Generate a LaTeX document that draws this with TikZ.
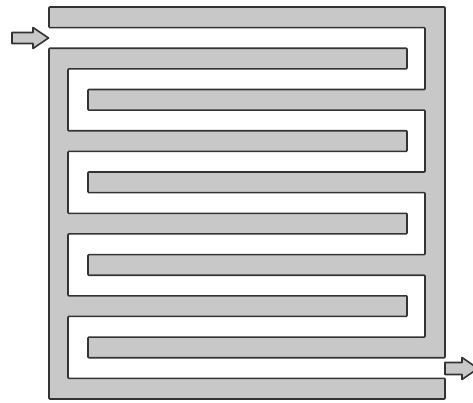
\documentclass[tikz,border=0pt]{standalone}
\usepackage{xcolor}
\usepackage{tikz}
\definecolor{wallgray}{RGB}{200,200,200}

\begin{document}
\begin{tikzpicture}[
    x=1pt, y=-1pt,
    wall/.style={fill=wallgray, draw=black!80, line width=1.6pt, line join=round, rounded corners=0.8pt},
    flowarrow/.style={fill=wallgray, draw=black!80, line width=1.6pt, line join=round}
]
\useasboundingbox (0,0) rectangle (473,403);

\draw[wall] (49,7) -- (445,7) -- (445,357.7)
    \foreach \t in {337.1,254.6,172,89.5} { -- (88,\t+20.6) -- (88,\t) -- (425,\t) -- (425,\t-61.9) }
    -- (49,27.6) -- cycle;

\draw[wall] (49,48.3)
    \foreach \t in {48.3,130.8,213.3,295.8} { -- (407,\t) -- (407,\t+20.6) -- (68,\t+20.6) -- (68,\t+82.5) }
    -- (445,378.3) -- (445,399) -- (49,399) -- cycle;

\draw[flowarrow] (12,32.5) -- (33,32.5) -- (33,27.5) -- (48.5,38) -- (33,48.5) -- (33,43.5) -- (12,43.5) -- cycle;
\draw[flowarrow] (445,362.5) -- (462,362.5) -- (462,357.5) -- (478,368.5) -- (462,379.5) -- (462,374.5) -- (445,374.5) -- cycle;
\end{tikzpicture}
\end{document}
